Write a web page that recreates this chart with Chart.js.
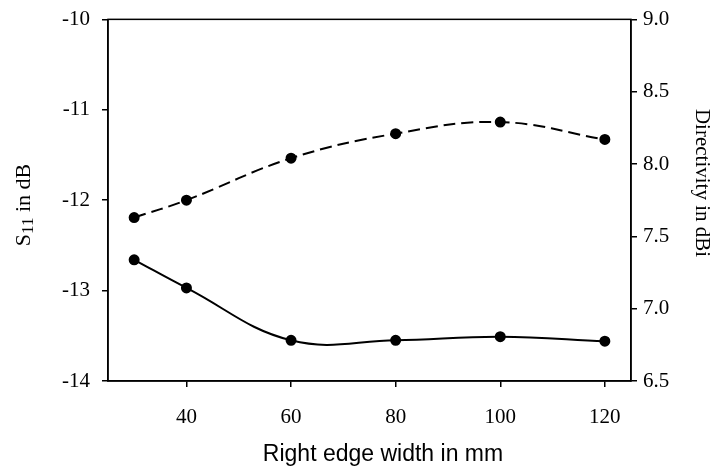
<!DOCTYPE html>
<html>
<head>
<meta charset="utf-8">
<script src="https://cdn.jsdelivr.net/npm/chart.js@4/dist/chart.umd.min.js"></script>
<style>
  html, body { margin:0; padding:0; background:#fff; }
  #wrap { width:713px; height:466px; }
</style>
</head>
<body>
<div id="wrap"><canvas id="c"></canvas></div>
<script>
// ------------------------------------------------------
// data
// ------------------------------------------------------
const widthMm      = [30, 40, 60, 80, 100, 120];
const s11Db        = [-12.66, -12.97, -13.55, -13.55, -13.51, -13.56];
const directivity  = [7.63, 7.75, 8.04, 8.21, 8.29, 8.17];
const xTicks       = [40, 60, 80, 100, 120];

const serif = "'Liberation Serif', 'Times New Roman', serif";
const sans  = "'Liberation Sans', Arial, sans-serif";

// frame round the plot area + axis titles (S11 needs a real subscript)
const frameAndTitles = {
  id: 'frameAndTitles',
  afterDraw(chart){
    const a = chart.chartArea, ctx = chart.ctx;
    ctx.save();
    ctx.strokeStyle = '#000';
    ctx.lineWidth = 1.5;
    ctx.strokeRect(a.left, a.top, a.right - a.left, a.bottom - a.top);

    ctx.fillStyle = '#000';
    ctx.textBaseline = 'middle';

    // left title: S11 in dB
    ctx.save();
    ctx.translate(24, 205);
    ctx.rotate(-Math.PI / 2);
    const big = '22px ' + serif, small = '17px ' + serif;
    ctx.font = big;   const wS = ctx.measureText('S').width, wRest = ctx.measureText(' in dB').width;
    ctx.font = small; const wSub = ctx.measureText('11').width;
    let x0 = -(wS + wSub + wRest) / 2;
    ctx.textAlign = 'left';
    ctx.font = big;   ctx.fillText('S', x0, 0);
    ctx.font = small; ctx.fillText('11', x0 + wS, 5);
    ctx.font = big;   ctx.fillText(' in dB', x0 + wS + wSub, 0);
    ctx.restore();

    // right title
    ctx.save();
    ctx.translate(702, 183);
    ctx.rotate(Math.PI / 2);
    ctx.textAlign = 'center';
    ctx.font = '21px ' + serif;
    ctx.fillText('Directivity in dBi', 0, 0);
    ctx.restore();

    // bottom title
    ctx.textAlign = 'center';
    ctx.font = '23px ' + sans;
    ctx.fillText('Right edge width in mm', 383, 455);
    ctx.restore();
  }
};

const tickGrid = { display: true, drawOnChartArea: false, drawTicks: true, tickLength: 6, color: '#000', lineWidth: 1.5 };
const axisBorder = { display: true, color: '#000', width: 1.5 };

new Chart(document.getElementById('c'), {
  type: 'line',
  data: {
    datasets: [
      {
        label: 'S11',
        data: widthMm.map((x, i) => ({ x, y: s11Db[i] })),
        yAxisID: 'y',
        borderColor: '#000', backgroundColor: '#000',
        borderWidth: 2, tension: 0.4,
        pointRadius: 4.5, pointBackgroundColor: '#000'
      },
      {
        label: 'Directivity',
        data: widthMm.map((x, i) => ({ x, y: directivity[i] })),
        yAxisID: 'y2',
        borderColor: '#000', backgroundColor: '#000',
        borderWidth: 2, tension: 0.4, borderDash: [12, 6],
        pointRadius: 4.5, pointBackgroundColor: '#000'
      }
    ]
  },
  options: {
    responsive: true,
    maintainAspectRatio: false,
    animation: false,
    layout: { padding: { top: 18, left: 0, right: 0, bottom: 0 } },
    plugins: { legend: { display: false }, tooltip: { enabled: false } },
    scales: {
      x: {
        type: 'linear', min: 25, max: 125,
        afterBuildTicks(s){ s.ticks = xTicks.map(v => ({ value: v })); },
        afterFit(s){ s.height = 85; },
        grid: tickGrid,
        border: axisBorder,
        ticks: { color: '#000', font: { family: serif, size: 21 }, padding: 18, maxRotation: 0 }
      },
      y: {
        position: 'left', min: -14, max: -10,
        ticks: { stepSize: 1, color: '#000', font: { family: serif, size: 21, lineHeight: 0.7 }, padding: 12 },
        afterFit(s){ s.width = 108; },
        grid: tickGrid,
        border: axisBorder
      },
      y2: {
        position: 'right', min: 6.5, max: 9.0,
        ticks: { stepSize: 0.5, color: '#000', font: { family: serif, size: 21, lineHeight: 0.7 }, padding: 6,
                 callback: v => Number(v).toFixed(1) },
        afterFit(s){ s.width = 82; },
        grid: tickGrid,
        border: axisBorder
      }
    }
  },
  plugins: [frameAndTitles]
});
</script>
</body>
</html>
